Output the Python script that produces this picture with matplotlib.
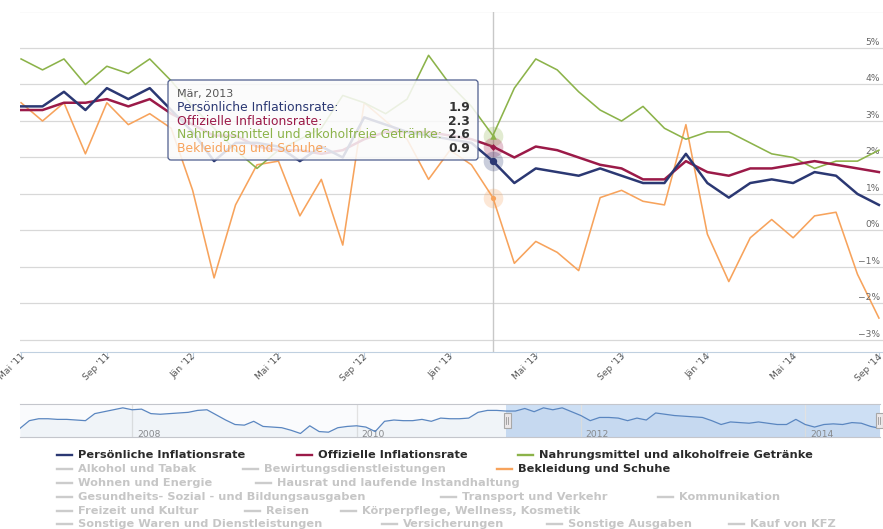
import matplotlib
matplotlib.use("Agg")
import matplotlib.pyplot as plt
import matplotlib.transforms as mtransforms
from matplotlib.lines import Line2D
from matplotlib.patches import FancyBboxPatch, Rectangle

# ---------------- data ----------------
months = ["Mai 2011", "Jun 2011", "Jul 2011", "Aug 2011", "Sep 2011", "Okt 2011", "Nov 2011", "Dez 2011",
          "Jän 2012", "Feb 2012", "Mär 2012", "Apr 2012", "Mai 2012", "Jun 2012", "Jul 2012", "Aug 2012",
          "Sep 2012", "Okt 2012", "Nov 2012", "Dez 2012", "Jän 2013", "Feb 2013", "Mär 2013", "Apr 2013",
          "Mai 2013", "Jun 2013", "Jul 2013", "Aug 2013", "Sep 2013", "Okt 2013", "Nov 2013", "Dez 2013",
          "Jän 2014", "Feb 2014", "Mär 2014", "Apr 2014", "Mai 2014", "Jun 2014", "Jul 2014", "Aug 2014",
          "Sep 2014"]

persoenlich = [3.4, 3.4, 3.8, 3.3, 3.9, 3.6, 3.9, 3.3, 2.7, 1.9, 2.4, 2.4, 2.3, 1.9, 2.3, 2.0,
               3.1, 2.9, 2.7, 2.6, 2.5, 2.4, 1.9, 1.3, 1.7, 1.6, 1.5, 1.7, 1.5, 1.3, 1.3, 2.1,
               1.3, 0.9, 1.3, 1.4, 1.3, 1.6, 1.5, 1.0, 0.7]
offiziell = [3.3, 3.3, 3.5, 3.5, 3.6, 3.4, 3.6, 3.2, 2.9, 2.6, 2.6, 2.3, 2.2, 2.2, 2.1, 2.2,
             2.5, 2.7, 2.7, 2.7, 2.6, 2.5, 2.3, 2.0, 2.3, 2.2, 2.0, 1.8, 1.7, 1.4, 1.4, 1.9,
             1.6, 1.5, 1.7, 1.7, 1.8, 1.9, 1.8, 1.7, 1.6]
nahrung = [4.7, 4.4, 4.7, 4.0, 4.5, 4.3, 4.7, 4.1, 3.4, 2.8, 2.2, 1.7, 2.2, 2.5, 2.8, 3.7,
           3.5, 3.2, 3.6, 4.8, 4.0, 3.4, 2.6, 3.9, 4.7, 4.4, 3.8, 3.3, 3.0, 3.4, 2.8, 2.5,
           2.7, 2.7, 2.4, 2.1, 2.0, 1.7, 1.9, 1.9, 2.2]
bekleidung = [3.5, 3.0, 3.5, 2.1, 3.5, 2.9, 3.2, 2.8, 1.1, -1.3, 0.7, 1.8, 1.9, 0.4, 1.4, -0.4,
              3.5, 3.0, 2.5, 1.4, 2.2, 1.8, 0.9, -0.9, -0.3, -0.6, -1.1, 0.9, 1.1, 0.8, 0.7, 2.9,
              -0.1, -1.4, -0.2, 0.3, -0.2, 0.4, 0.5, -1.2, -2.4]

series_names = ["Persönliche Inflationsrate", "Offizielle Inflationsrate",
                "Nahrungsmittel und alkoholfreie Getränke", "Bekleidung und Schuhe"]
series_colors = ["#2b3873", "#9b1a48", "#8cb34a", "#f7a35c"]

x_tick_pos = [0, 4, 8, 12, 16, 20, 24, 28, 32, 36, 40]
x_tick_labels = ["Mai '11", "Sep '11", "Jän '12", "Mai '12", "Sep '12", "Jän '13",
                 "Mai '13", "Sep '13", "Jän '14", "Mai '14", "Sep '14"]
y_ticks = [5, 4, 3, 2, 1, 0, -1, -2, -3]
y_tick_labels = ["5%", "4%", "3%", "2%", "1%", "0%", "\u22121%", "\u22122%", "\u22123%"]

hover_index = 22
hover_title = "Mär, 2013"

# navigator: persönliche Inflationsrate Jän 2007 - Apr 2011 (then continues with main series)
nav_history = [0.7, 1.9, 2.2, 2.2, 2.1, 2.1, 2.0, 1.9, 3.0, 3.3, 3.6, 3.9,
               3.6, 3.7, 3.0, 2.9, 3.0, 3.1, 3.2, 3.5, 3.6, 2.8, 2.0, 1.3,
               1.2, 1.8, 1.0, 0.9, 0.8, 0.4, -0.1, 1.1, 0.2, 0.1, 0.8, 1.0,
               1.1, 0.9, 0.2, 1.8, 2.0, 1.9, 1.9, 2.1, 1.8, 2.3, 2.2, 2.2,
               2.3, 3.2, 3.5, 3.5]
nav_year_pos = [12, 36, 60, 84]
nav_year_labels = ["2008", "2010", "2012", "2014"]

legend_rows = [
    [("Persönliche Inflationsrate", "#2b3873"), ("Offizielle Inflationsrate", "#9b1a48"),
     ("Nahrungsmittel und alkoholfreie Getränke", "#8cb34a")],
    [("Alkohol und Tabak", None), ("Bewirtungsdienstleistungen", None),
     ("Bekleidung und Schuhe", "#f7a35c")],
    [("Wohnen und Energie", None), ("Hausrat und laufende Instandhaltung", None)],
    [("Gesundheits- Sozial - und Bildungsausgaben", None), ("Transport und Verkehr", None),
     ("Kommunikation", None)],
    [("Freizeit und Kultur", None), ("Reisen", None), ("Körperpflege, Wellness, Kosmetik", None)],
    [("Sonstige Waren und Dienstleistungen", None), ("Versicherungen", None),
     ("Sonstige Ausgaben", None), ("Kauf von KFZ", None)],
]

# ---------------- layout (pixels) ----------------
W, H, DPI = 883, 529, 100
legend_x = [[78, 318, 539], [78, 264, 518], [78, 277], [78, 462, 679], [78, 266, 362],
            [78, 403, 568, 750]]
legend_y = [455, 469, 483, 497, 511, 524]

plt.rcParams["font.family"] = ["DejaVu Sans"]
fig = plt.figure(figsize=(W / DPI, H / DPI), dpi=DPI)
fig.patch.set_facecolor("white")
PX = mtransforms.IdentityTransform()


def py(y):  # pixel from top -> display y
    return H - y


def fr(x0, y_top, x1, y_bot):
    return [x0 / W, 1 - y_bot / H, (x1 - x0) / W, (y_bot - y_top) / H]


# ---------------- main chart ----------------
ax = fig.add_axes(fr(20, 11.5, 883, 352))
ax.set_xlim(-0.05, 40.19)
ax.set_ylim(-3.33, 6.0)
ax.set_facecolor("white")
for s in ["top", "left", "right"]:
    ax.spines[s].set_visible(False)
ax.spines["bottom"].set_color("#c0d0e0")
ax.spines["bottom"].set_linewidth(0.8)

ax.set_yticks(list(range(-3, 7)))
ax.yaxis.grid(True, color="#d8d8d8", linewidth=0.9)
ax.tick_params(axis="y", length=0, labelleft=False)
ax.set_axisbelow(True)

ax.set_xticks(x_tick_pos)
ax.set_xticklabels(x_tick_labels, rotation=45, ha="right", va="top",
                   rotation_mode="anchor", fontsize=6.6, color="#555555")
ax.tick_params(axis="x", direction="out", length=5, width=0.8, color="#c0d0e0", pad=-5)
for lab in ax.get_xticklabels():
    lab.set_transform(lab.get_transform() +
                      mtransforms.ScaledTranslation(-1 / DPI, 0, fig.dpi_scale_trans))

ytrans = mtransforms.blended_transform_factory(ax.transAxes, ax.transData)
ytrans = ytrans + mtransforms.ScaledTranslation(-3 / DPI, 1 / DPI, fig.dpi_scale_trans)
for v, lab in zip(y_ticks, y_tick_labels):
    ax.text(1.0, v, lab, transform=ytrans, ha="right", va="bottom", fontsize=6.6,
            color="#666666")

xs = list(range(len(months)))
ax.axvline(hover_index, color="#c8c8c8", linewidth=1.0, zorder=1)

all_series = [persoenlich, offiziell, nahrung, bekleidung]
widths = [1.8, 1.8, 1.15, 1.15]
z = [5, 4, 3, 2]
for vals, col, lw, zz in zip(all_series, series_colors, widths, z):
    ax.plot(xs, vals, color=col, linewidth=lw, solid_joinstyle="round", zorder=zz)

markers = ["o", "D", "^", "o"]
msizes = [28, 12, 22, 14]
for vals, col, mk, ms, zz in zip(all_series, series_colors, markers, msizes, z):
    ax.scatter([hover_index], [vals[hover_index]], s=200, color=col, alpha=0.25,
               linewidths=0, zorder=zz + 5)
    ax.scatter([hover_index], [vals[hover_index]], s=ms, marker=mk, color=col,
               linewidths=0, zorder=zz + 6)

# ---------------- tooltip ----------------
tip = FancyBboxPatch((168, py(160)), 310, 80, boxstyle="round,pad=0,rounding_size=3",
                     transform=PX, facecolor="#fbfbfb", alpha=0.86, edgecolor="none", zorder=5)
fig.add_artist(tip)
tip_edge = FancyBboxPatch((168, py(160)), 310, 80, boxstyle="round,pad=0,rounding_size=3",
                          transform=PX, facecolor="none", edgecolor="#4f5e8e", linewidth=0.9,
                          zorder=5.1)
fig.add_artist(tip_edge)
fig.text(177, py(94), hover_title, transform=PX, fontsize=8.0, color="#555555",
         va="center", ha="left", zorder=6)
for k, (name, col, vals) in enumerate(zip(series_names, series_colors, all_series)):
    yy = py(107.5 + 13.6 * k)
    fig.text(177, yy, name + ":", transform=PX, fontsize=8.9, color=col,
             va="center", ha="left", zorder=6)
    fig.text(470, yy, f"{vals[hover_index]:.1f}", transform=PX, fontsize=8.9,
             color="#333333", fontweight="bold", va="center", ha="right", zorder=6)

# ---------------- navigator ----------------
nav_vals = nav_history + persoenlich
nav = fig.add_axes(fr(20, 404, 880, 437))
nav.set_xlim(0, len(nav_vals) - 1)
nav.set_ylim(-0.65, 4.5)
nav.set_facecolor("#fafbfd")
for s in ["left", "right"]:
    nav.spines[s].set_visible(False)
for s in ["top", "bottom"]:
    nav.spines[s].set_color("#c4c6cc")
    nav.spines[s].set_linewidth(0.8)
nav.set_xticks([])
nav.set_yticks([])
sel_start = len(nav_history)
nav.axvspan(sel_start, len(nav_vals) - 1, color="#c9dcf3", alpha=0.9, zorder=0, linewidth=0)
for p, lab in zip(nav_year_pos, nav_year_labels):
    nav.axvline(p, color="#e2e2e2", linewidth=0.9, zorder=0.5)
    nav.text(p + 0.5, -0.2, lab, fontsize=6.6, color="#8a8a8a", ha="left", va="center",
             zorder=1)
nxs = list(range(len(nav_vals)))
nav.fill_between(nxs, nav_vals, -0.65, color="#4572a7", alpha=0.05, linewidth=0, zorder=1)
nav.plot(nxs, nav_vals, color="#5a86c0", linewidth=0.9, zorder=2)

for hx in [507, 879]:
    r = Rectangle((hx - 3.5, py(428)), 7, 15, transform=PX, facecolor="#ebe7e8",
                  edgecolor="#a8a8a8", linewidth=0.8, zorder=4)
    fig.add_artist(r)
    for gx in [hx - 1, hx + 1]:
        fig.add_artist(Line2D([gx, gx], [py(424), py(417)], transform=PX,
                              color="#999999", linewidth=0.6, zorder=4.1))

# ---------------- legend ----------------
for row, xrow, yy in zip(legend_rows, legend_x, legend_y):
    for (name, col), tx in zip(row, xrow):
        if col is None:
            c_sym, c_txt = "#cccccc", "#c6c6c6"
        else:
            c_sym, c_txt = col, "#2a2a2a"
        fig.add_artist(Line2D([tx - 21, tx - 6], [py(yy), py(yy)], transform=PX,
                              color=c_sym, linewidth=1.7))
        fig.text(tx, py(yy), name, transform=PX, fontsize=8.2, color=c_txt,
                 fontweight="bold", va="center", ha="left")

fig.savefig("out.png", dpi=DPI, facecolor="white")
